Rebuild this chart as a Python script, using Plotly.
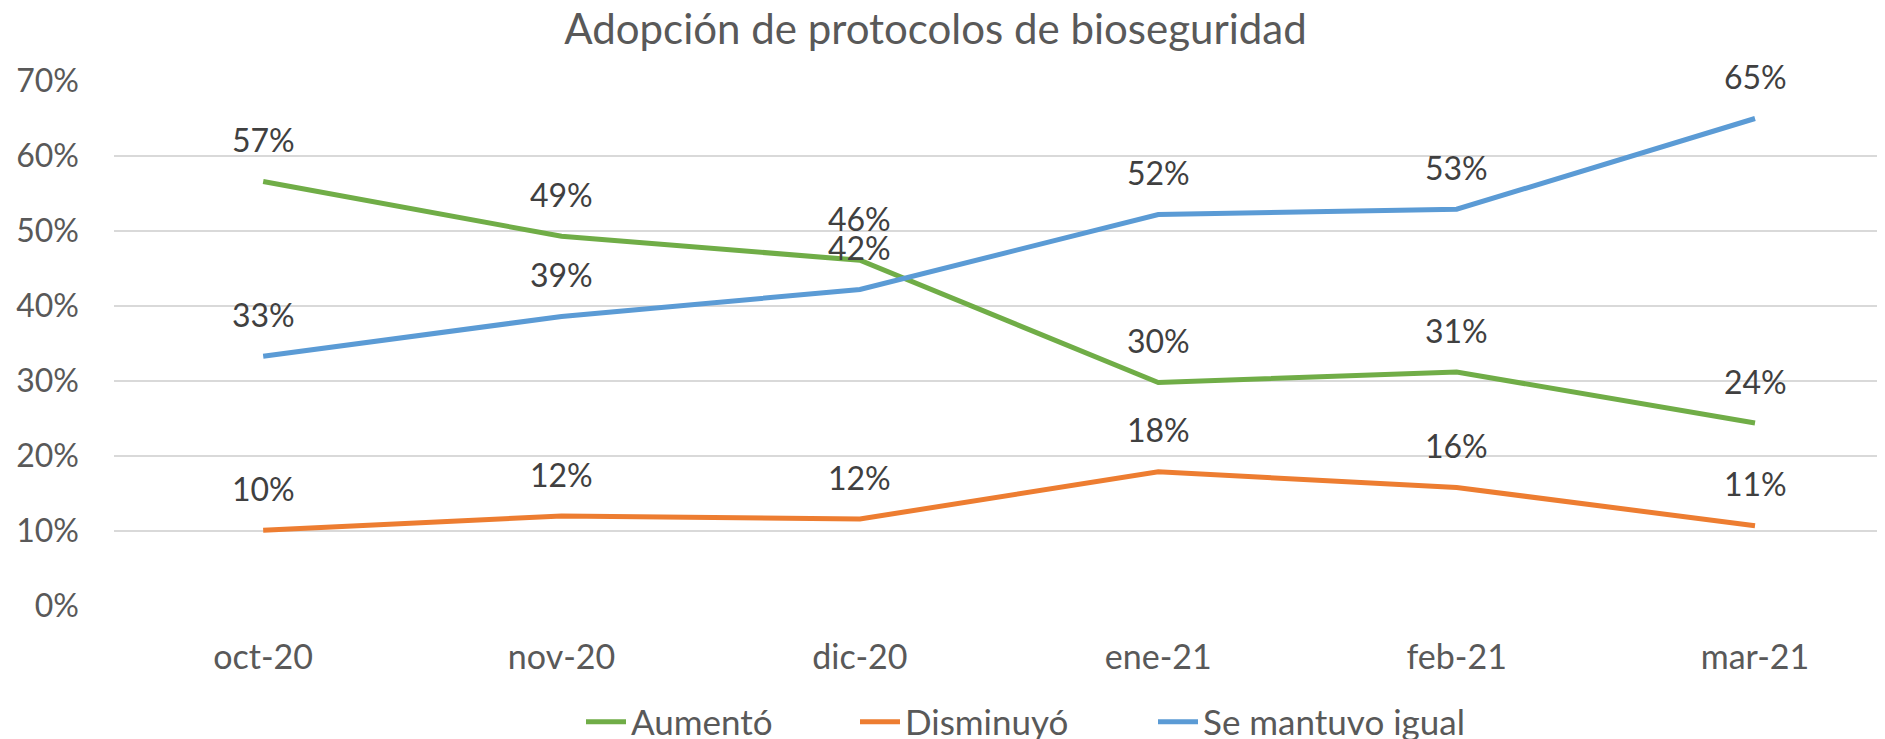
import plotly.graph_objects as go

categories = ["oct-20", "nov-20", "dic-20", "ene-21", "feb-21", "mar-21"]
aumento = [0.566, 0.493, 0.461, 0.298, 0.312, 0.244]
disminuyo = [0.101, 0.120, 0.116, 0.179, 0.158, 0.107]
igual = [0.333, 0.386, 0.422, 0.522, 0.529, 0.650]
y_ticks = [0, 0.1, 0.2, 0.3, 0.4, 0.5, 0.6, 0.7]

series = [
    ("Aumentó", aumento, "#70AD47"),
    ("Disminuyó", disminuyo, "#ED7D31"),
    ("Se mantuvo igual", igual, "#5B9BD5"),
]

FONT = "Lato"
W, H = 1885, 739
OFF = 8  # page body margin offset
x_idx = list(range(len(categories)))

# legend entry left positions (page pixels)
legend_x_px = [589, 863, 1161]
legend_names = ["legend", "legend2", "legend3"]

fig = go.Figure()
annotations = []
layout_legends = {}
for (name, vals, color), lname, lx in zip(series, legend_names, legend_x_px):
    fig.add_trace(go.Scatter(
        x=x_idx, y=vals, mode="lines", name=name,
        line=dict(color=color, width=5),
        hoverinfo="skip", legend=lname,
    ))
    layout_legends[lname] = dict(
        orientation="h",
        x=(lx - OFF - 8) / W, xanchor="left", xref="container",
        y=1 - (722 - OFF) / H, yanchor="middle", yref="container",
        font=dict(family=FONT, size=35, color="#595959"),
        itemwidth=40, bgcolor="rgba(0,0,0,0)",
    )
    for xi, v in zip(x_idx, vals):
        annotations.append(dict(
            x=xi, y=v, xref="x", yref="y", text=f"{round(v*100)}%",
            showarrow=False, yshift=42,
            font=dict(family=FONT, size=32, color="#404040"),
        ))

fig.update_layout(
    width=W, height=H,
    margin=dict(l=114 - OFF, r=OFF, t=81 - OFF, b=H - (606 - OFF), autoexpand=False),
    paper_bgcolor="white", plot_bgcolor="white",
    title=dict(
        text="Adopción de protocolos de bioseguridad",
        x=927.5 / W, xref="container", xanchor="center",
        y=1 - 21 / H, yref="container", yanchor="middle",
        font=dict(family=FONT, size=42, color="#595959"),
    ),
    showlegend=True,
    annotations=annotations,
    **layout_legends,
)

fig.update_xaxes(
    range=[-0.5, 5 + 130 / 298.4],
    tickmode="array", tickvals=x_idx, ticktext=categories,
    showgrid=False, zeroline=False, showline=False, ticks="",
    tickfont=dict(family=FONT, size=34, color="#595959"),
    ticklabelstandoff=28,
)
fig.update_yaxes(
    range=[0, 0.7],
    tickmode="array", tickvals=y_ticks, tickformat=".0%",
    showgrid=True, gridcolor="#D9D9D9", gridwidth=1.5,
    zeroline=False, showline=False, ticks="",
    tickfont=dict(family=FONT, size=32, color="#595959"),
    ticklabelstandoff=34,
)

fig.write_html("out.html")
